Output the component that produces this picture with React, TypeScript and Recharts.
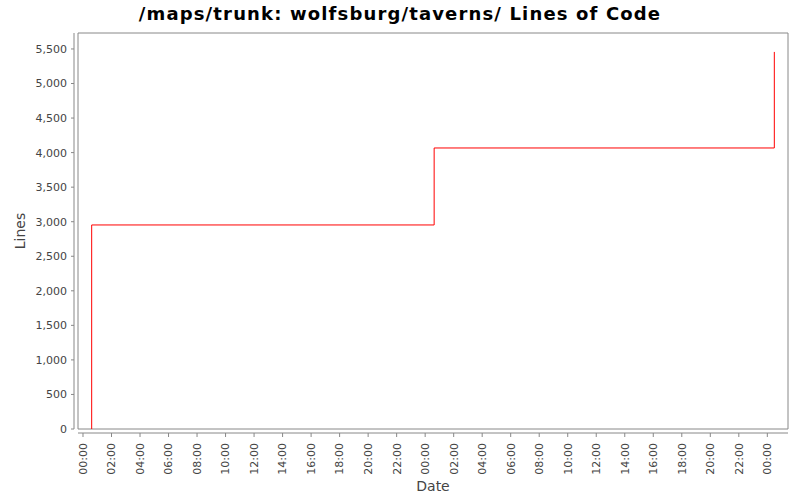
import { LineChart, Line, XAxis, YAxis, ReferenceArea } from "recharts";

// hours since the first midnight shown on the axis
const commitHours = [0.61, 0.61, 24.63, 48.49];
const lineCounts = [0, 2953, 4067, 5457];
const hourTicks = [0, 2, 4, 6, 8, 10, 12, 14, 16, 18, 20, 22, 24, 26, 28, 30, 32, 34, 36, 38, 40, 42, 44, 46, 48];
const lineTicks = [0, 500, 1000, 1500, 2000, 2500, 3000, 3500, 4000, 4500, 5000, 5500];
const hourRange = [-0.35, 49.45];
const lineRange = [0, 5731];

const data = commitHours.map((h, i) => ({ h, lines: lineCounts[i] }));

const FONT = "'DejaVu Sans', sans-serif";
const AXIS = "#888888";
const LABEL = "#444444";

const fmtHour = (h: number) => `${String(h % 24).padStart(2, "0")}:00`;

function HourTick(props: any) {
  const { x, y, payload } = props;
  return (
    <g transform={`translate(${x},${y})`}>
      <text
        transform="rotate(-90)"
        textAnchor="end"
        dy="0.35em"
        fontSize={11}
        fontFamily={FONT}
        fill={LABEL}
      >
        {fmtHour(payload.value)}
      </text>
    </g>
  );
}

export default function App() {
  return (
    <div style={{ position: "absolute", left: 0, top: 0, width: 800, height: 500, background: "#fff" }}>
      <div
        style={{
          position: "absolute",
          top: 3,
          left: 0,
          width: 800,
          textAlign: "center",
          fontFamily: FONT,
          fontWeight: "bold",
          fontSize: 18,
          letterSpacing: 1.15,
          color: "#000",
        }}
      >
        /maps/trunk: wolfsburg/taverns/ Lines of Code
      </div>
      <LineChart width={800} height={500} data={data} margin={{ top: 33, right: 12, bottom: 0, left: 0 }}>
        <ReferenceArea
          x1={hourRange[0]}
          x2={hourRange[1]}
          y1={lineRange[0]}
          y2={lineRange[1]}
          ifOverflow="visible"
          fill="none"
          fillOpacity={0}
          stroke={AXIS}
          strokeWidth={1}
        />
        <XAxis
          dataKey="h"
          type="number"
          domain={hourRange}
          ticks={hourTicks}
          interval={0}
          height={71}
          tickSize={4}
          tickMargin={10}
          axisLine={{ stroke: AXIS, transform: "translate(0,4)" }}
          tickLine={{ stroke: AXIS, transform: "translate(0,4)" }}
          tick={<HourTick />}
          label={{
            content: ({ viewBox }: any) => (
              <text
                x={viewBox.x + viewBox.width / 2}
                y={viewBox.y + viewBox.height - 9}
                textAnchor="middle"
                fontSize={14}
                fontFamily={FONT}
                fill={LABEL}
              >
                Date
              </text>
            ),
          }}
        />
        <YAxis
          type="number"
          domain={lineRange}
          ticks={lineTicks}
          interval={0}
          width={78}
          tickSize={3}
          tickMargin={8}
          axisLine={{ stroke: AXIS, transform: "translate(-4,0)" }}
          tickLine={{ stroke: AXIS, transform: "translate(-4,0)" }}
          tick={{ fontSize: 11, fontFamily: FONT, fill: LABEL }}
          tickFormatter={(v: number) => v.toLocaleString("en-US")}
          label={{
            content: ({ viewBox }: any) => {
              const cx = 20;
              const cy = viewBox.y + viewBox.height / 2;
              return (
                <text
                  x={cx}
                  y={cy}
                  transform={`rotate(-90, ${cx}, ${cy})`}
                  textAnchor="middle"
                  dy="0.35em"
                  fontSize={14}
                  fontFamily={FONT}
                  fill={LABEL}
                >
                  Lines
                </text>
              );
            },
          }}
        />
        <Line
          type="stepAfter"
          dataKey="lines"
          stroke="#ff0000"
          strokeWidth={1}
          dot={false}
          activeDot={false}
          isAnimationActive={false}
        />
      </LineChart>
    </div>
  );
}
